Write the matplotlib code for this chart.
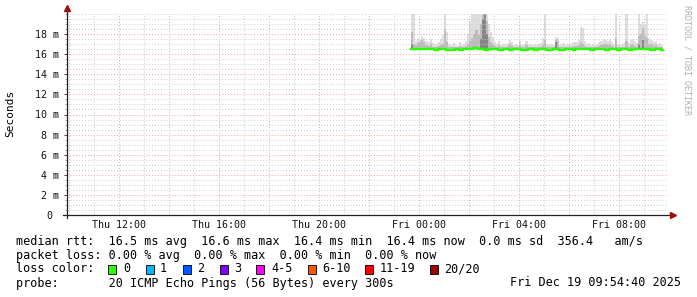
import numpy as np
import matplotlib
matplotlib.use('Agg')
import matplotlib.pyplot as plt
import matplotlib.dates as mdates
from matplotlib.ticker import MultipleLocator, FuncFormatter
from matplotlib.patches import Rectangle
from datetime import datetime, timedelta

MONO = 'DejaVu Sans Mono'
W, H = 697, 297

# time window of the graph (24h ending at the timestamp)
t_start = datetime(2025, 12, 18, 9, 54, 40)
t_end = datetime(2025, 12, 19, 9, 54, 40)
first_sample = datetime(2025, 12, 18, 23, 40)
step = timedelta(minutes=5)

# median rtt per 5 minute sample (ms)
median_ms = [
    16.5, 16.5, 16.5, 16.5, 16.5, 16.5, 16.5, 16.5, 16.5, 16.5,
    16.5, 16.4, 16.4, 16.5, 16.5, 16.5, 16.5, 16.4, 16.4, 16.4,
    16.4, 16.5, 16.5, 16.4, 16.4, 16.5, 16.5, 16.5, 16.5, 16.5,
    16.6, 16.6, 16.5, 16.5, 16.5, 16.4, 16.4, 16.5, 16.5, 16.5,
    16.5, 16.5, 16.4, 16.4, 16.5, 16.5, 16.5, 16.4, 16.4, 16.5,
    16.5, 16.5, 16.5, 16.4, 16.4, 16.4, 16.5, 16.5, 16.5, 16.4,
    16.4, 16.5, 16.5, 16.5, 16.5, 16.4, 16.4, 16.4, 16.5, 16.5,
    16.5, 16.4, 16.4, 16.4, 16.5, 16.5, 16.5, 16.5, 16.4, 16.5,
    16.5, 16.5, 16.5, 16.5, 16.5, 16.5, 16.4, 16.4, 16.5, 16.5,
    16.5, 16.5, 16.5, 16.4, 16.4, 16.5, 16.5, 16.5, 16.5, 16.4,
    16.4, 16.5, 16.5, 16.5, 16.4, 16.4, 16.5, 16.5, 16.5, 16.5,
    16.5, 16.5, 16.5, 16.5, 16.5, 16.4, 16.4, 16.5, 16.5, 16.5, 16.4,
]

# slowest ping of each sample (ms) - outer smoke
max_ms = [
    20.0, 20.0, 17.3, 17.6, 17.4, 17.8, 17.6, 17.3, 17.2, 17.5,
    17.1, 16.9, 17.0, 17.2, 17.5, 17.9, 20.0, 18.2, 17.0, 16.9,
    17.1, 16.9, 16.8, 17.2, 16.9, 17.0, 17.3, 18.0, 19.3, 20.0,
    20.0, 20.0, 20.0, 20.0, 20.0, 20.0, 20.0, 19.0, 18.2, 17.7,
    17.2, 17.0, 17.3, 16.9, 17.0, 16.9, 17.1, 17.4, 17.2, 16.9,
    17.0, 16.9, 17.3, 16.9, 17.0, 17.3, 16.9, 17.0, 16.9, 17.0,
    16.9, 17.0, 17.1, 17.6, 20.0, 17.0, 16.9, 17.0, 16.9, 17.7,
    17.6, 16.9, 17.0, 17.1, 16.9, 17.0, 16.9, 17.1, 17.2, 17.2,
    17.4, 18.7, 18.6, 17.3, 17.0, 17.1, 16.9, 17.0, 16.9, 17.0,
    17.2, 17.3, 17.5, 17.4, 17.3, 17.5, 17.2, 17.0, 20.0, 17.0,
    16.9, 17.0, 17.1, 20.0, 17.1, 17.4, 17.5, 17.3, 17.1, 20.0,
    19.0, 19.2, 18.9, 20.0, 17.6, 17.4, 17.2, 17.3, 17.0, 17.1, 16.9,
]

# inner smoke (ms)
mid_ms = [
    18.2, 17.0, 16.9, 17.1, 17.2, 17.4, 17.2, 16.9, 16.8, 17.0,
    16.7, 16.7, 16.7, 16.8, 16.9, 17.0, 18.5, 17.2, 16.7, 16.7,
    16.7, 16.7, 16.7, 16.8, 16.7, 16.7, 16.8, 17.0, 17.3, 17.6,
    18.0, 18.4, 17.9, 19.0, 20.0, 20.0, 19.3, 17.7, 17.2, 17.0,
    16.8, 16.7, 16.9, 16.7, 16.7, 16.7, 16.8, 17.0, 16.8, 16.7,
    16.7, 16.7, 16.9, 16.7, 16.7, 16.9, 16.7, 16.7, 16.7, 16.7,
    16.7, 16.7, 16.7, 16.9, 17.4, 16.7, 16.7, 16.7, 16.7, 17.4,
    17.3, 16.7, 16.7, 16.7, 16.7, 16.7, 16.7, 16.7, 16.8, 16.8,
    16.9, 17.2, 17.0, 16.8, 16.7, 16.7, 16.7, 16.7, 16.7, 16.7,
    16.8, 16.9, 17.0, 17.0, 16.9, 17.0, 16.8, 16.7, 17.6, 16.7,
    16.7, 16.7, 16.7, 17.3, 16.7, 16.9, 17.0, 16.8, 16.7, 17.8,
    18.0, 18.6, 17.8, 17.6, 17.0, 17.0, 16.8, 16.9, 16.7, 16.7, 16.7,
]

# dense core of the smoke for a few samples
dark_idx = [0, 33, 34, 35, 36, 69, 109, 111]
dark_ms = [17.0, 17.5, 19.5, 20.0, 18.0, 17.2, 17.0, 17.4]

y_ticks_ms = [0, 2, 4, 6, 8, 10, 12, 14, 16, 18]

legend_lines = [
    'median rtt:  16.5 ms avg  16.6 ms max  16.4 ms min  16.4 ms now  0.0 ms sd  356.4   am/s',
    'packet loss: 0.00 % avg  0.00 % max  0.00 % min  0.00 % now',
    'loss color:',
    'probe:       20 ICMP Echo Pings (56 Bytes) every 300s',
]
loss_labels = ['0', '1', '2', '3', '4-5', '6-10', '11-19', '20/20']
loss_colors = ['#26ff00', '#00b8ff', '#0059ff', '#7e00ff', '#ff00ff',
               '#ff5500', '#ff0000', '#a10000']
stamp = 'Fri Dec 19 09:54:40 2025'

# ---------------------------------------------------------------
fig = plt.figure(figsize=(W / 100, H / 100), dpi=100)
ax = fig.add_axes([67 / W, 1 - 215 / H, 600 / W, 201 / H])

n = len(median_ms)
times = [first_sample + i * step for i in range(n)]
tx = mdates.date2num(times)
width = step / timedelta(days=1)

med = np.array(median_ms) / 1000
ax.bar(tx, np.array(max_ms) / 1000 - med, bottom=med, width=width, align='edge',
       color='#dedede', linewidth=0, zorder=1)
ax.bar(tx, np.array(mid_ms) / 1000 - med, bottom=med, width=width, align='edge',
       color='#bcbcbc', linewidth=0, zorder=1.2)
dx = tx[dark_idx]
ax.bar(dx, np.array(dark_ms) / 1000 - med[dark_idx], bottom=med[dark_idx], width=width,
       align='edge', color='#858585', linewidth=0, zorder=1.4)

tx_edges = np.append(tx, tx[-1] + width)
ax.step(tx_edges, np.append(med, med[-1]), where='post', color='#26ff00', lw=1.7, zorder=3)

ax.set_xlim(t_start, t_end)
ax.set_ylim(0, 0.020)

# grids
ax.xaxis.set_major_locator(mdates.HourLocator(byhour=range(0, 24, 2)))
ax.xaxis.set_minor_locator(mdates.HourLocator())
ax.xaxis.set_major_formatter(FuncFormatter(
    lambda v, p: mdates.num2date(v).strftime('%a %H:%M') if mdates.num2date(v).hour % 4 == 0 else ''))
ax.yaxis.set_major_locator(matplotlib.ticker.FixedLocator([v / 1000 for v in y_ticks_ms]))
ax.yaxis.set_minor_locator(MultipleLocator(0.0005))
ax.yaxis.set_major_formatter(FuncFormatter(
    lambda v, p: '0 ' if abs(v) < 1e-9 else '%d m' % round(v * 1000)))

ax.set_axisbelow(False)
ax.grid(which='major', color='#f3a0a0', linestyle=(0, (1, 2)), linewidth=0.7, zorder=2)
ax.grid(which='minor', color='#cccccc', linestyle=(0, (1, 2)), linewidth=0.7, zorder=2)

for s in ax.spines.values():
    s.set_visible(False)
ax.tick_params(axis='x', which='both', length=0, pad=3.5, labelsize=7.2, labelcolor='#111111')
ax.tick_params(axis='y', which='major', length=2.5, width=0.7, color='#444444', pad=3,
               labelsize=7.2, labelcolor='#111111')
ax.tick_params(axis='y', which='minor', length=1.2, width=0.5, color='#888888')
for lab in ax.get_xticklabels() + ax.get_yticklabels():
    lab.set_family(MONO)

# axis lines with arrow heads
ax.plot([-4 / 600, 605 / 600], [0, 0], transform=ax.transAxes, color='#222222', lw=0.9,
        clip_on=False, zorder=4)
ax.plot([0, 0], [-3 / 201, 206 / 201], transform=ax.transAxes, color='#222222', lw=0.9,
        clip_on=False, zorder=4)
ax.plot([606 / 600], [0], marker='>', ms=4, color='#9a1010', transform=ax.transAxes,
        clip_on=False, zorder=5)
ax.plot([0], [207 / 201], marker='^', ms=4, color='#9a1010', transform=ax.transAxes,
        clip_on=False, zorder=5)

# texts
fig.text(10 / W, 1 - 113 / H, 'Seconds', rotation=90, ha='center', va='center',
         family=MONO, fontsize=8)
fig.text(687 / W, 1 - 5 / H, 'RRDTOOL / TOBI OETIKER', rotation=270, ha='center', va='top',
         family=MONO, fontsize=6, color='#b0b0b0')

rows_y = [241, 255, 269, 283]
for line, yy in zip(legend_lines, rows_y):
    fig.text(16 / W, 1 - yy / H, line, ha='left', va='center', family=MONO, fontsize=8.5)
fig.text(681 / W, 1 - rows_y[3] / H, stamp, ha='right', va='center', family=MONO, fontsize=8.5)

box_x = [108.4, 145.8, 182.7, 219.6, 256.4, 307.6, 365.3, 430.2]
lab_x = [123.6, 160.0, 196.9, 233.8, 271.1, 321.8, 380.0, 444.4]
for bx, lx, lab, col in zip(box_x, lab_x, loss_labels, loss_colors):
    fig.patches.append(Rectangle((bx / W, 1 - (rows_y[2] + 4.5) / H), 8 / W, 9 / H,
                                 transform=fig.transFigure, facecolor=col,
                                 edgecolor='#000000', linewidth=0.6))
    fig.text(lx / W, 1 - rows_y[2] / H, lab, ha='left', va='center', family=MONO, fontsize=8.5)

fig.savefig('out.png', dpi=100)
